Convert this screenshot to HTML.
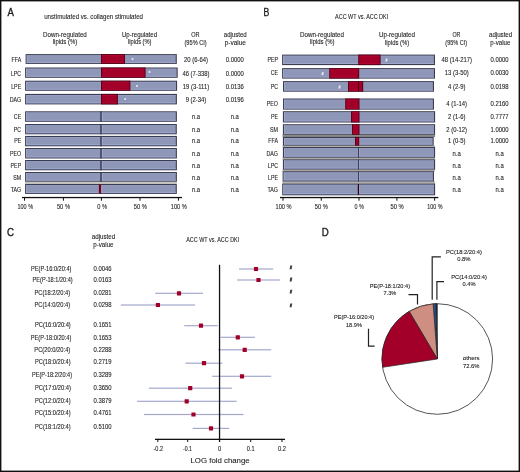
<!DOCTYPE html><html><head><meta charset="utf-8"><style>html,body{margin:0;padding:0;background:#fff;}svg{display:block;will-change:transform;filter:blur(0.3px);}text{font-family:"Liberation Sans",sans-serif;stroke:#1e1e1e;stroke-width:0.1px;}</style></head><body>
<svg width="520" height="472" viewBox="0 0 520 472">
<rect x="0" y="0" width="520" height="472" fill="#fff"/>
<text x="7.60" y="16.40" font-size="10.2" textLength="6.40" lengthAdjust="spacingAndGlyphs" fill="#1e1e1e" style="stroke-width:0.35px">A</text>
<text x="44.20" y="18.60" font-size="7.4" textLength="98.80" lengthAdjust="spacingAndGlyphs" fill="#1e1e1e" >unstimulated vs. collagen stimulated</text>
<text x="43.00" y="36.70" font-size="6.6" textLength="43.80" lengthAdjust="spacingAndGlyphs" fill="#1e1e1e" >Down-regulated</text>
<text x="52.80" y="44.00" font-size="6.6" textLength="24.40" lengthAdjust="spacingAndGlyphs" fill="#1e1e1e" >lipids (%)</text>
<text x="122.00" y="36.70" font-size="6.6" textLength="35.00" lengthAdjust="spacingAndGlyphs" fill="#1e1e1e" >Up-regulated</text>
<text x="128.00" y="44.00" font-size="6.6" textLength="23.50" lengthAdjust="spacingAndGlyphs" fill="#1e1e1e" >lipids (%)</text>
<text x="191.20" y="37.00" font-size="6.6" textLength="8.30" lengthAdjust="spacingAndGlyphs" fill="#1e1e1e" >OR</text>
<text x="184.50" y="44.50" font-size="6.6" textLength="22.20" lengthAdjust="spacingAndGlyphs" fill="#1e1e1e" >(95% CI)</text>
<text x="223.80" y="37.00" font-size="6.6" textLength="22.90" lengthAdjust="spacingAndGlyphs" fill="#1e1e1e" >adjusted</text>
<text x="224.70" y="44.50" font-size="6.6" textLength="21.30" lengthAdjust="spacingAndGlyphs" fill="#1e1e1e" >p-value</text>
<rect x="25.1" y="181.6" width="151.8" height="2.5" fill="#c4c4be"/>
<rect x="25.6" y="54.1" width="151.20" height="9.80" fill="#3b3d52"/>
<rect x="26.70" y="55.20" width="149.00" height="7.60" fill="#8f97b9"/>
<rect x="26.70" y="55.20" width="0.8" height="7.60" fill="#a3abd2"/>
<rect x="26.70" y="62.00" width="149.00" height="0.8" fill="#a3abd2"/>
<rect x="26.70" y="55.20" width="149.00" height="0.6" fill="#a3abd2" opacity="0.7"/>
<rect x="101.00" y="54.1" width="24.00" height="9.80" fill="#5e0016"/>
<rect x="102.00" y="55.20" width="22.00" height="7.60" fill="#a30029"/>
<rect x="102.00" y="55.20" width="22.00" height="0.7" fill="#b8063a"/>
<rect x="102.00" y="62.10" width="22.00" height="0.7" fill="#b8063a"/>
<text x="11.48" y="61.70" font-size="6.6" textLength="9.72" lengthAdjust="spacingAndGlyphs" fill="#1e1e1e" >FFA</text>
<text x="184.03" y="61.70" font-size="6.6" textLength="23.94" lengthAdjust="spacingAndGlyphs" fill="#1e1e1e" >20 (6-64)</text>
<text x="225.78" y="61.70" font-size="6.6" textLength="18.05" lengthAdjust="spacingAndGlyphs" fill="#1e1e1e" >0.0000</text>
<rect x="25.1" y="67.5" width="152.60" height="10.30" fill="#3b3d52"/>
<rect x="26.20" y="68.60" width="150.40" height="8.10" fill="#8f97b9"/>
<rect x="26.20" y="68.60" width="0.8" height="8.10" fill="#a3abd2"/>
<rect x="26.20" y="75.90" width="150.40" height="0.8" fill="#a3abd2"/>
<rect x="26.20" y="68.60" width="150.40" height="0.6" fill="#a3abd2" opacity="0.7"/>
<rect x="101.00" y="67.5" width="44.60" height="10.30" fill="#5e0016"/>
<rect x="102.00" y="68.60" width="42.60" height="8.10" fill="#a30029"/>
<rect x="102.00" y="68.60" width="42.60" height="0.7" fill="#b8063a"/>
<rect x="102.00" y="76.00" width="42.60" height="0.7" fill="#b8063a"/>
<text x="10.89" y="75.70" font-size="6.6" textLength="10.31" lengthAdjust="spacingAndGlyphs" fill="#1e1e1e" >LPC</text>
<text x="182.39" y="75.70" font-size="6.6" textLength="27.22" lengthAdjust="spacingAndGlyphs" fill="#1e1e1e" >46 (7-338)</text>
<text x="225.78" y="75.70" font-size="6.6" textLength="18.05" lengthAdjust="spacingAndGlyphs" fill="#1e1e1e" >0.0000</text>
<rect x="25.1" y="80.7" width="152.00" height="10.10" fill="#3b3d52"/>
<rect x="26.20" y="81.80" width="149.80" height="7.90" fill="#8f97b9"/>
<rect x="26.20" y="81.80" width="0.8" height="7.90" fill="#a3abd2"/>
<rect x="26.20" y="88.90" width="149.80" height="0.8" fill="#a3abd2"/>
<rect x="26.20" y="81.80" width="149.80" height="0.6" fill="#a3abd2" opacity="0.7"/>
<rect x="101.00" y="80.7" width="29.40" height="10.10" fill="#5e0016"/>
<rect x="102.00" y="81.80" width="27.40" height="7.90" fill="#a30029"/>
<rect x="102.00" y="81.80" width="27.40" height="0.7" fill="#b8063a"/>
<rect x="102.00" y="89.00" width="27.40" height="0.7" fill="#b8063a"/>
<text x="11.18" y="89.20" font-size="6.6" textLength="10.02" lengthAdjust="spacingAndGlyphs" fill="#1e1e1e" >LPE</text>
<text x="182.83" y="89.20" font-size="6.6" textLength="26.35" lengthAdjust="spacingAndGlyphs" fill="#1e1e1e" >19 (3-111)</text>
<text x="225.78" y="89.20" font-size="6.6" textLength="18.05" lengthAdjust="spacingAndGlyphs" fill="#1e1e1e" >0.0136</text>
<rect x="25.1" y="93.9" width="151.80" height="10.50" fill="#3b3d52"/>
<rect x="26.20" y="95.00" width="149.60" height="8.30" fill="#8f97b9"/>
<rect x="26.20" y="95.00" width="0.8" height="8.30" fill="#a3abd2"/>
<rect x="26.20" y="102.50" width="149.60" height="0.8" fill="#a3abd2"/>
<rect x="26.20" y="95.00" width="149.60" height="0.6" fill="#a3abd2" opacity="0.7"/>
<rect x="101.00" y="93.9" width="16.90" height="10.50" fill="#5e0016"/>
<rect x="102.00" y="95.00" width="14.90" height="8.30" fill="#a30029"/>
<rect x="102.00" y="95.00" width="14.90" height="0.7" fill="#b8063a"/>
<rect x="102.00" y="102.60" width="14.90" height="0.7" fill="#b8063a"/>
<text x="9.71" y="102.20" font-size="6.6" textLength="11.49" lengthAdjust="spacingAndGlyphs" fill="#1e1e1e" >DAG</text>
<text x="185.67" y="102.20" font-size="6.6" textLength="20.66" lengthAdjust="spacingAndGlyphs" fill="#1e1e1e" >9 (2-34)</text>
<text x="225.78" y="102.20" font-size="6.6" textLength="18.05" lengthAdjust="spacingAndGlyphs" fill="#1e1e1e" >0.0196</text>
<rect x="25.1" y="111.3" width="151.80" height="10.50" fill="#3b3d52"/>
<rect x="26.20" y="112.40" width="149.60" height="8.30" fill="#8f97b9"/>
<rect x="26.20" y="112.40" width="0.8" height="8.30" fill="#a3abd2"/>
<rect x="26.20" y="119.90" width="149.60" height="0.8" fill="#a3abd2"/>
<rect x="26.20" y="112.40" width="149.60" height="0.6" fill="#a3abd2" opacity="0.7"/>
<rect x="100.25" y="111.3" width="1.6" height="10.50" fill="#3b3d52"/>
<rect x="101.85" y="112.40" width="0.8" height="8.30" fill="#a3abd2"/>
<text x="13.84" y="118.60" font-size="6.6" textLength="7.36" lengthAdjust="spacingAndGlyphs" fill="#1e1e1e" >CE</text>
<text x="191.90" y="118.60" font-size="6.6" textLength="8.20" lengthAdjust="spacingAndGlyphs" fill="#1e1e1e" >n.a</text>
<text x="230.70" y="118.60" font-size="6.6" textLength="8.20" lengthAdjust="spacingAndGlyphs" fill="#1e1e1e" >n.a</text>
<rect x="25.1" y="124.0" width="151.70" height="10.30" fill="#3b3d52"/>
<rect x="26.20" y="125.10" width="149.50" height="8.10" fill="#8f97b9"/>
<rect x="26.20" y="125.10" width="0.8" height="8.10" fill="#a3abd2"/>
<rect x="26.20" y="132.40" width="149.50" height="0.8" fill="#a3abd2"/>
<rect x="26.20" y="125.10" width="149.50" height="0.6" fill="#a3abd2" opacity="0.7"/>
<rect x="100.25" y="124.0" width="1.6" height="10.30" fill="#3b3d52"/>
<rect x="101.85" y="125.10" width="0.8" height="8.10" fill="#a3abd2"/>
<text x="13.84" y="131.70" font-size="6.6" textLength="7.36" lengthAdjust="spacingAndGlyphs" fill="#1e1e1e" >PC</text>
<text x="191.90" y="131.70" font-size="6.6" textLength="8.20" lengthAdjust="spacingAndGlyphs" fill="#1e1e1e" >n.a</text>
<text x="230.70" y="131.70" font-size="6.6" textLength="8.20" lengthAdjust="spacingAndGlyphs" fill="#1e1e1e" >n.a</text>
<rect x="25.1" y="135.9" width="151.80" height="10.40" fill="#3b3d52"/>
<rect x="26.20" y="137.00" width="149.60" height="8.20" fill="#8f97b9"/>
<rect x="26.20" y="137.00" width="0.8" height="8.20" fill="#a3abd2"/>
<rect x="26.20" y="144.40" width="149.60" height="0.8" fill="#a3abd2"/>
<rect x="26.20" y="137.00" width="149.60" height="0.6" fill="#a3abd2" opacity="0.7"/>
<rect x="100.25" y="135.9" width="1.6" height="10.40" fill="#3b3d52"/>
<rect x="101.85" y="137.00" width="0.8" height="8.20" fill="#a3abd2"/>
<text x="14.13" y="143.40" font-size="6.6" textLength="7.07" lengthAdjust="spacingAndGlyphs" fill="#1e1e1e" >PE</text>
<text x="191.90" y="143.40" font-size="6.6" textLength="8.20" lengthAdjust="spacingAndGlyphs" fill="#1e1e1e" >n.a</text>
<text x="230.70" y="143.40" font-size="6.6" textLength="8.20" lengthAdjust="spacingAndGlyphs" fill="#1e1e1e" >n.a</text>
<rect x="25.1" y="148.0" width="151.80" height="10.50" fill="#3b3d52"/>
<rect x="26.20" y="149.10" width="149.60" height="8.30" fill="#8f97b9"/>
<rect x="26.20" y="149.10" width="0.8" height="8.30" fill="#a3abd2"/>
<rect x="26.20" y="156.60" width="149.60" height="0.8" fill="#a3abd2"/>
<rect x="26.20" y="149.10" width="149.60" height="0.6" fill="#a3abd2" opacity="0.7"/>
<rect x="100.25" y="148.0" width="1.6" height="10.50" fill="#3b3d52"/>
<rect x="101.85" y="149.10" width="0.8" height="8.30" fill="#a3abd2"/>
<text x="10.01" y="155.60" font-size="6.6" textLength="11.19" lengthAdjust="spacingAndGlyphs" fill="#1e1e1e" >PEO</text>
<text x="191.90" y="155.60" font-size="6.6" textLength="8.20" lengthAdjust="spacingAndGlyphs" fill="#1e1e1e" >n.a</text>
<text x="230.70" y="155.60" font-size="6.6" textLength="8.20" lengthAdjust="spacingAndGlyphs" fill="#1e1e1e" >n.a</text>
<rect x="25.1" y="160.0" width="151.80" height="10.30" fill="#3b3d52"/>
<rect x="26.20" y="161.10" width="149.60" height="8.10" fill="#8f97b9"/>
<rect x="26.20" y="161.10" width="0.8" height="8.10" fill="#a3abd2"/>
<rect x="26.20" y="168.40" width="149.60" height="0.8" fill="#a3abd2"/>
<rect x="26.20" y="161.10" width="149.60" height="0.6" fill="#a3abd2" opacity="0.7"/>
<rect x="100.25" y="160.0" width="1.6" height="10.30" fill="#3b3d52"/>
<rect x="101.85" y="161.10" width="0.8" height="8.10" fill="#a3abd2"/>
<text x="10.59" y="167.70" font-size="6.6" textLength="10.61" lengthAdjust="spacingAndGlyphs" fill="#1e1e1e" >PEP</text>
<text x="191.90" y="167.70" font-size="6.6" textLength="8.20" lengthAdjust="spacingAndGlyphs" fill="#1e1e1e" >n.a</text>
<text x="230.70" y="167.70" font-size="6.6" textLength="8.20" lengthAdjust="spacingAndGlyphs" fill="#1e1e1e" >n.a</text>
<rect x="25.1" y="172.0" width="151.80" height="9.70" fill="#3b3d52"/>
<rect x="26.20" y="173.10" width="149.60" height="7.50" fill="#8f97b9"/>
<rect x="26.20" y="173.10" width="0.8" height="7.50" fill="#a3abd2"/>
<rect x="26.20" y="179.80" width="149.60" height="0.8" fill="#a3abd2"/>
<rect x="26.20" y="173.10" width="149.60" height="0.6" fill="#a3abd2" opacity="0.7"/>
<rect x="100.25" y="172.0" width="1.6" height="9.70" fill="#3b3d52"/>
<rect x="101.85" y="173.10" width="0.8" height="7.50" fill="#a3abd2"/>
<text x="13.25" y="180.20" font-size="6.6" textLength="7.95" lengthAdjust="spacingAndGlyphs" fill="#1e1e1e" >SM</text>
<text x="191.90" y="180.20" font-size="6.6" textLength="8.20" lengthAdjust="spacingAndGlyphs" fill="#1e1e1e" >n.a</text>
<text x="230.70" y="180.20" font-size="6.6" textLength="8.20" lengthAdjust="spacingAndGlyphs" fill="#1e1e1e" >n.a</text>
<rect x="25.1" y="184.0" width="151.70" height="9.90" fill="#3b3d52"/>
<rect x="26.20" y="185.10" width="149.50" height="7.70" fill="#8f97b9"/>
<rect x="26.20" y="185.10" width="0.8" height="7.70" fill="#a3abd2"/>
<rect x="26.20" y="192.00" width="149.50" height="0.8" fill="#a3abd2"/>
<rect x="26.20" y="185.10" width="149.50" height="0.6" fill="#a3abd2" opacity="0.7"/>
<rect x="98.90" y="184.5" width="2.40" height="8.90" fill="#7a0018"/>
<rect x="101.30" y="185.10" width="0.8" height="7.70" fill="#a3abd2"/>
<text x="10.70" y="192.00" font-size="6.6" textLength="10.50" lengthAdjust="spacingAndGlyphs" fill="#1e1e1e" >TAG</text>
<text x="191.90" y="192.00" font-size="6.6" textLength="8.20" lengthAdjust="spacingAndGlyphs" fill="#1e1e1e" >n.a</text>
<text x="230.70" y="192.00" font-size="6.6" textLength="8.20" lengthAdjust="spacingAndGlyphs" fill="#1e1e1e" >n.a</text>
<circle cx="132.5" cy="59.1" r="1.0" fill="#eeeef6"/>
<circle cx="149.5" cy="71.9" r="1.0" fill="#eeeef6"/>
<circle cx="137" cy="86.0" r="1.0" fill="#eeeef6"/>
<circle cx="125.1" cy="99.1" r="1.0" fill="#eeeef6"/>
<rect x="22" y="196.9" width="160" height="1.3" fill="#111"/>
<rect x="24.00" y="197.5" width="1" height="3.2" fill="#111"/>
<rect x="62.90" y="197.5" width="1" height="3.2" fill="#111"/>
<rect x="100.90" y="197.5" width="1" height="3.2" fill="#111"/>
<rect x="139.50" y="197.5" width="1" height="3.2" fill="#111"/>
<rect x="177.90" y="197.5" width="1" height="3.2" fill="#111"/>
<text x="17.50" y="209.40" font-size="6.6" textLength="15.50" lengthAdjust="spacingAndGlyphs" fill="#1e1e1e" >100 %</text>
<text x="56.90" y="209.40" font-size="6.6" textLength="13.10" lengthAdjust="spacingAndGlyphs" fill="#1e1e1e" >50 %</text>
<text x="97.20" y="209.40" font-size="6.6" textLength="9.80" lengthAdjust="spacingAndGlyphs" fill="#1e1e1e" >0 %</text>
<text x="133.75" y="209.40" font-size="6.6" textLength="13.15" lengthAdjust="spacingAndGlyphs" fill="#1e1e1e" >50 %</text>
<text x="170.80" y="209.40" font-size="6.6" textLength="16.00" lengthAdjust="spacingAndGlyphs" fill="#1e1e1e" >100 %</text>
<text x="263.60" y="16.40" font-size="10.2" textLength="5.80" lengthAdjust="spacingAndGlyphs" fill="#1e1e1e" style="stroke-width:0.35px">B</text>
<text x="335.10" y="19.00" font-size="7.4" textLength="53.10" lengthAdjust="spacingAndGlyphs" fill="#1e1e1e" >ACC WT vs. ACC DKI</text>
<text x="300.00" y="37.00" font-size="6.6" textLength="44.00" lengthAdjust="spacingAndGlyphs" fill="#1e1e1e" >Down-regulated</text>
<text x="310.00" y="44.00" font-size="6.6" textLength="24.40" lengthAdjust="spacingAndGlyphs" fill="#1e1e1e" >lipids (%)</text>
<text x="379.00" y="37.10" font-size="6.6" textLength="36.00" lengthAdjust="spacingAndGlyphs" fill="#1e1e1e" >Up-regulated</text>
<text x="385.00" y="44.60" font-size="6.6" textLength="24.20" lengthAdjust="spacingAndGlyphs" fill="#1e1e1e" >lipids (%)</text>
<text x="452.50" y="37.00" font-size="6.6" textLength="7.90" lengthAdjust="spacingAndGlyphs" fill="#1e1e1e" >OR</text>
<text x="445.30" y="44.50" font-size="6.6" textLength="21.80" lengthAdjust="spacingAndGlyphs" fill="#1e1e1e" >(95% CI)</text>
<text x="489.00" y="37.00" font-size="6.6" textLength="23.20" lengthAdjust="spacingAndGlyphs" fill="#1e1e1e" >adjusted</text>
<text x="490.30" y="44.50" font-size="6.6" textLength="20.10" lengthAdjust="spacingAndGlyphs" fill="#1e1e1e" >p-value</text>
<rect x="282.5" y="134.6" width="152.6" height="2.5" fill="#8a8a88"/>
<rect x="282.5" y="145.5" width="152.6" height="1.7" fill="#b0b0a8"/>
<rect x="282.5" y="157.5" width="152.6" height="2.0" fill="#a8a8a0"/>
<rect x="282.5" y="169.4" width="152.6" height="2.0" fill="#a8a8a0"/>
<rect x="282.5" y="181.3" width="152.6" height="2.5" fill="#b0b0a8"/>
<rect x="282.1" y="54.6" width="152.90" height="10.50" fill="#3b3d52"/>
<rect x="283.20" y="55.70" width="150.70" height="8.30" fill="#8f97b9"/>
<rect x="283.20" y="55.70" width="0.8" height="8.30" fill="#a3abd2"/>
<rect x="283.20" y="63.20" width="150.70" height="0.8" fill="#a3abd2"/>
<rect x="283.20" y="55.70" width="150.70" height="0.6" fill="#a3abd2" opacity="0.7"/>
<rect x="358.20" y="54.6" width="22.40" height="10.50" fill="#5e0016"/>
<rect x="359.20" y="55.70" width="20.40" height="8.30" fill="#a30029"/>
<rect x="359.20" y="55.70" width="20.40" height="0.7" fill="#b8063a"/>
<rect x="359.20" y="63.30" width="20.40" height="0.7" fill="#b8063a"/>
<text x="267.39" y="61.50" font-size="6.6" textLength="10.61" lengthAdjust="spacingAndGlyphs" fill="#1e1e1e" >PEP</text>
<text x="441.45" y="61.50" font-size="6.6" textLength="30.50" lengthAdjust="spacingAndGlyphs" fill="#1e1e1e" >48 (14-217)</text>
<text x="490.58" y="61.50" font-size="6.6" textLength="18.05" lengthAdjust="spacingAndGlyphs" fill="#1e1e1e" >0.0000</text>
<rect x="282.1" y="68.1" width="152.90" height="10.50" fill="#3b3d52"/>
<rect x="283.20" y="69.20" width="150.70" height="8.30" fill="#8f97b9"/>
<rect x="283.20" y="69.20" width="0.8" height="8.30" fill="#a3abd2"/>
<rect x="283.20" y="76.70" width="150.70" height="0.8" fill="#a3abd2"/>
<rect x="283.20" y="69.20" width="150.70" height="0.6" fill="#a3abd2" opacity="0.7"/>
<rect x="329.20" y="68.1" width="30.00" height="10.50" fill="#5e0016"/>
<rect x="330.20" y="69.20" width="28.00" height="8.30" fill="#a30029"/>
<rect x="330.20" y="69.20" width="28.00" height="0.7" fill="#b8063a"/>
<rect x="330.20" y="76.80" width="28.00" height="0.7" fill="#b8063a"/>
<text x="270.64" y="75.40" font-size="6.6" textLength="7.36" lengthAdjust="spacingAndGlyphs" fill="#1e1e1e" >CE</text>
<text x="444.73" y="75.40" font-size="6.6" textLength="23.94" lengthAdjust="spacingAndGlyphs" fill="#1e1e1e" >13 (3-50)</text>
<text x="490.58" y="75.40" font-size="6.6" textLength="18.05" lengthAdjust="spacingAndGlyphs" fill="#1e1e1e" >0.0030</text>
<rect x="283.0" y="81.1" width="151.00" height="10.60" fill="#3b3d52"/>
<rect x="284.10" y="82.20" width="148.80" height="8.40" fill="#8f97b9"/>
<rect x="284.10" y="82.20" width="0.8" height="8.40" fill="#a3abd2"/>
<rect x="284.10" y="89.80" width="148.80" height="0.8" fill="#a3abd2"/>
<rect x="284.10" y="82.20" width="148.80" height="0.6" fill="#a3abd2" opacity="0.7"/>
<rect x="348.00" y="81.1" width="15.20" height="10.60" fill="#5e0016"/>
<rect x="349.00" y="82.20" width="13.20" height="8.40" fill="#a30029"/>
<rect x="349.00" y="82.20" width="13.20" height="0.7" fill="#b8063a"/>
<rect x="349.00" y="89.90" width="13.20" height="0.7" fill="#b8063a"/>
<text x="270.64" y="89.00" font-size="6.6" textLength="7.36" lengthAdjust="spacingAndGlyphs" fill="#1e1e1e" >PC</text>
<text x="448.01" y="89.00" font-size="6.6" textLength="17.38" lengthAdjust="spacingAndGlyphs" fill="#1e1e1e" >4 (2-9)</text>
<text x="490.58" y="89.00" font-size="6.6" textLength="18.05" lengthAdjust="spacingAndGlyphs" fill="#1e1e1e" >0.0198</text>
<rect x="283.0" y="98.5" width="151.00" height="11.10" fill="#3b3d52"/>
<rect x="284.10" y="99.60" width="148.80" height="8.90" fill="#8f97b9"/>
<rect x="284.10" y="99.60" width="0.8" height="8.90" fill="#a3abd2"/>
<rect x="284.10" y="107.70" width="148.80" height="0.8" fill="#a3abd2"/>
<rect x="284.10" y="99.60" width="148.80" height="0.6" fill="#a3abd2" opacity="0.7"/>
<rect x="345.20" y="98.5" width="14.30" height="11.10" fill="#5e0016"/>
<rect x="346.20" y="99.60" width="12.30" height="8.90" fill="#a30029"/>
<rect x="346.20" y="99.60" width="12.30" height="0.7" fill="#b8063a"/>
<rect x="346.20" y="107.80" width="12.30" height="0.7" fill="#b8063a"/>
<text x="266.81" y="105.50" font-size="6.6" textLength="11.19" lengthAdjust="spacingAndGlyphs" fill="#1e1e1e" >PEO</text>
<text x="446.37" y="105.50" font-size="6.6" textLength="20.66" lengthAdjust="spacingAndGlyphs" fill="#1e1e1e" >4 (1-14)</text>
<text x="490.58" y="105.50" font-size="6.6" textLength="18.05" lengthAdjust="spacingAndGlyphs" fill="#1e1e1e" >0.2160</text>
<rect x="282.9" y="111.2" width="152.20" height="11.30" fill="#3b3d52"/>
<rect x="284.00" y="112.30" width="150.00" height="9.10" fill="#8f97b9"/>
<rect x="284.00" y="112.30" width="0.8" height="9.10" fill="#a3abd2"/>
<rect x="284.00" y="120.60" width="150.00" height="0.8" fill="#a3abd2"/>
<rect x="284.00" y="112.30" width="150.00" height="0.6" fill="#a3abd2" opacity="0.7"/>
<rect x="351.00" y="111.2" width="8.50" height="11.30" fill="#5e0016"/>
<rect x="352.00" y="112.30" width="6.50" height="9.10" fill="#a30029"/>
<rect x="352.00" y="112.30" width="6.50" height="0.7" fill="#b8063a"/>
<rect x="352.00" y="120.70" width="6.50" height="0.7" fill="#b8063a"/>
<text x="270.93" y="118.70" font-size="6.6" textLength="7.07" lengthAdjust="spacingAndGlyphs" fill="#1e1e1e" >PE</text>
<text x="448.01" y="118.70" font-size="6.6" textLength="17.38" lengthAdjust="spacingAndGlyphs" fill="#1e1e1e" >2 (1-6)</text>
<text x="490.58" y="118.70" font-size="6.6" textLength="18.05" lengthAdjust="spacingAndGlyphs" fill="#1e1e1e" >0.7777</text>
<rect x="282.9" y="124.2" width="152.20" height="10.60" fill="#3b3d52"/>
<rect x="284.00" y="125.30" width="150.00" height="8.40" fill="#8f97b9"/>
<rect x="284.00" y="125.30" width="0.8" height="8.40" fill="#a3abd2"/>
<rect x="284.00" y="132.90" width="150.00" height="0.8" fill="#a3abd2"/>
<rect x="284.00" y="125.30" width="150.00" height="0.6" fill="#a3abd2" opacity="0.7"/>
<rect x="352.00" y="124.2" width="7.50" height="10.60" fill="#5e0016"/>
<rect x="353.00" y="125.30" width="5.50" height="8.40" fill="#a30029"/>
<rect x="353.00" y="125.30" width="5.50" height="0.7" fill="#b8063a"/>
<rect x="353.00" y="133.00" width="5.50" height="0.7" fill="#b8063a"/>
<text x="270.05" y="131.50" font-size="6.6" textLength="7.95" lengthAdjust="spacingAndGlyphs" fill="#1e1e1e" >SM</text>
<text x="446.37" y="131.50" font-size="6.6" textLength="20.66" lengthAdjust="spacingAndGlyphs" fill="#1e1e1e" >2 (0-12)</text>
<text x="490.58" y="131.50" font-size="6.6" textLength="18.05" lengthAdjust="spacingAndGlyphs" fill="#1e1e1e" >1.0000</text>
<rect x="282.9" y="136.9" width="150.80" height="8.80" fill="#3b3d52"/>
<rect x="284.00" y="138.00" width="148.60" height="6.60" fill="#8f97b9"/>
<rect x="284.00" y="138.00" width="0.8" height="6.60" fill="#a3abd2"/>
<rect x="284.00" y="143.80" width="148.60" height="0.8" fill="#a3abd2"/>
<rect x="284.00" y="138.00" width="148.60" height="0.6" fill="#a3abd2" opacity="0.7"/>
<rect x="355.00" y="136.9" width="4.20" height="8.80" fill="#5e0016"/>
<rect x="356.00" y="138.00" width="2.20" height="6.60" fill="#a30029"/>
<rect x="356.00" y="138.00" width="2.20" height="0.7" fill="#b8063a"/>
<rect x="356.00" y="143.90" width="2.20" height="0.7" fill="#b8063a"/>
<text x="268.28" y="143.30" font-size="6.6" textLength="9.72" lengthAdjust="spacingAndGlyphs" fill="#1e1e1e" >FFA</text>
<text x="448.01" y="143.30" font-size="6.6" textLength="17.38" lengthAdjust="spacingAndGlyphs" fill="#1e1e1e" >1 (0-5)</text>
<text x="490.58" y="143.30" font-size="6.6" textLength="18.05" lengthAdjust="spacingAndGlyphs" fill="#1e1e1e" >1.0000</text>
<rect x="282.9" y="147.0" width="152.20" height="10.70" fill="#3b3d52"/>
<rect x="284.00" y="148.10" width="150.00" height="8.50" fill="#8f97b9"/>
<rect x="284.00" y="148.10" width="0.8" height="8.50" fill="#a3abd2"/>
<rect x="284.00" y="155.80" width="150.00" height="0.8" fill="#a3abd2"/>
<rect x="284.00" y="148.10" width="150.00" height="0.6" fill="#a3abd2" opacity="0.7"/>
<rect x="358.05" y="147.0" width="1.1" height="10.70" fill="#3b3d52"/>
<rect x="359.15" y="148.10" width="0.8" height="8.50" fill="#a3abd2"/>
<text x="266.51" y="155.50" font-size="6.6" textLength="11.49" lengthAdjust="spacingAndGlyphs" fill="#1e1e1e" >DAG</text>
<text x="452.60" y="155.50" font-size="6.6" textLength="8.20" lengthAdjust="spacingAndGlyphs" fill="#1e1e1e" >n.a</text>
<text x="495.50" y="155.50" font-size="6.6" textLength="8.20" lengthAdjust="spacingAndGlyphs" fill="#1e1e1e" >n.a</text>
<rect x="282.9" y="159.3" width="152.20" height="10.30" fill="#3b3d52"/>
<rect x="284.00" y="160.40" width="150.00" height="8.10" fill="#8f97b9"/>
<rect x="284.00" y="160.40" width="0.8" height="8.10" fill="#a3abd2"/>
<rect x="284.00" y="167.70" width="150.00" height="0.8" fill="#a3abd2"/>
<rect x="284.00" y="160.40" width="150.00" height="0.6" fill="#a3abd2" opacity="0.7"/>
<rect x="358.05" y="159.3" width="1.1" height="10.30" fill="#3b3d52"/>
<rect x="359.15" y="160.40" width="0.8" height="8.10" fill="#a3abd2"/>
<text x="267.69" y="167.70" font-size="6.6" textLength="10.31" lengthAdjust="spacingAndGlyphs" fill="#1e1e1e" >LPC</text>
<text x="452.60" y="167.70" font-size="6.6" textLength="8.20" lengthAdjust="spacingAndGlyphs" fill="#1e1e1e" >n.a</text>
<text x="495.50" y="167.70" font-size="6.6" textLength="8.20" lengthAdjust="spacingAndGlyphs" fill="#1e1e1e" >n.a</text>
<rect x="282.6" y="171.2" width="151.40" height="10.30" fill="#3b3d52"/>
<rect x="283.70" y="172.30" width="149.20" height="8.10" fill="#8f97b9"/>
<rect x="283.70" y="172.30" width="0.8" height="8.10" fill="#a3abd2"/>
<rect x="283.70" y="179.60" width="149.20" height="0.8" fill="#a3abd2"/>
<rect x="283.70" y="172.30" width="149.20" height="0.6" fill="#a3abd2" opacity="0.7"/>
<rect x="358.05" y="171.2" width="1.1" height="10.30" fill="#3b3d52"/>
<rect x="359.15" y="172.30" width="0.8" height="8.10" fill="#a3abd2"/>
<text x="267.98" y="179.90" font-size="6.6" textLength="10.02" lengthAdjust="spacingAndGlyphs" fill="#1e1e1e" >LPE</text>
<text x="452.60" y="179.90" font-size="6.6" textLength="8.20" lengthAdjust="spacingAndGlyphs" fill="#1e1e1e" >n.a</text>
<text x="495.50" y="179.90" font-size="6.6" textLength="8.20" lengthAdjust="spacingAndGlyphs" fill="#1e1e1e" >n.a</text>
<rect x="282.2" y="183.6" width="152.90" height="11.70" fill="#3b3d52"/>
<rect x="283.30" y="184.70" width="150.70" height="9.50" fill="#8f97b9"/>
<rect x="283.30" y="184.70" width="0.8" height="9.50" fill="#a3abd2"/>
<rect x="283.30" y="193.40" width="150.70" height="0.8" fill="#a3abd2"/>
<rect x="283.30" y="184.70" width="150.70" height="0.6" fill="#a3abd2" opacity="0.7"/>
<rect x="357.80" y="184.1" width="1.40" height="10.70" fill="#2a0008"/>
<rect x="359.20" y="184.70" width="0.8" height="9.50" fill="#a3abd2"/>
<text x="267.50" y="191.50" font-size="6.6" textLength="10.50" lengthAdjust="spacingAndGlyphs" fill="#1e1e1e" >TAG</text>
<text x="452.60" y="191.50" font-size="6.6" textLength="8.20" lengthAdjust="spacingAndGlyphs" fill="#1e1e1e" >n.a</text>
<text x="495.50" y="191.50" font-size="6.6" textLength="8.20" lengthAdjust="spacingAndGlyphs" fill="#1e1e1e" >n.a</text>
<rect x="358.1" y="81.5" width="0.9" height="9.5" fill="#3b0010"/>
<ellipse cx="386.5" cy="60.0" rx="1.05" ry="1.9" transform="rotate(15 386.5 60.0)" fill="#e2e4f0"/>
<ellipse cx="322.6" cy="73.5" rx="1.05" ry="1.9" transform="rotate(15 322.6 73.5)" fill="#e2e4f0"/>
<ellipse cx="339.6" cy="87.0" rx="1.05" ry="1.9" transform="rotate(15 339.6 87.0)" fill="#e2e4f0"/>
<rect x="280" y="196.9" width="158.3" height="1.3" fill="#111"/>
<rect x="282.50" y="197.5" width="1" height="3.2" fill="#111"/>
<rect x="320.75" y="197.5" width="1" height="3.2" fill="#111"/>
<rect x="358.50" y="197.5" width="1" height="3.2" fill="#111"/>
<rect x="396.40" y="197.5" width="1" height="3.2" fill="#111"/>
<rect x="434.10" y="197.5" width="1" height="3.2" fill="#111"/>
<text x="275.50" y="209.40" font-size="6.6" textLength="16.00" lengthAdjust="spacingAndGlyphs" fill="#1e1e1e" >100 %</text>
<text x="314.75" y="209.40" font-size="6.6" textLength="13.00" lengthAdjust="spacingAndGlyphs" fill="#1e1e1e" >50 %</text>
<text x="354.40" y="209.40" font-size="6.6" textLength="9.35" lengthAdjust="spacingAndGlyphs" fill="#1e1e1e" >0 %</text>
<text x="390.60" y="209.40" font-size="6.6" textLength="13.15" lengthAdjust="spacingAndGlyphs" fill="#1e1e1e" >50 %</text>
<text x="427.25" y="209.40" font-size="6.6" textLength="15.25" lengthAdjust="spacingAndGlyphs" fill="#1e1e1e" >100 %</text>
<text x="7.00" y="236.00" font-size="10.6" textLength="7.00" lengthAdjust="spacingAndGlyphs" fill="#1e1e1e" style="stroke-width:0.35px">C</text>
<text x="91.80" y="238.80" font-size="6.6" textLength="23.40" lengthAdjust="spacingAndGlyphs" fill="#1e1e1e" >adjusted</text>
<text x="93.30" y="246.60" font-size="6.6" textLength="20.20" lengthAdjust="spacingAndGlyphs" fill="#1e1e1e" >p-value</text>
<text x="186.20" y="241.60" font-size="7.2" textLength="53.00" lengthAdjust="spacingAndGlyphs" fill="#1e1e1e" >ACC WT vs. ACC DKI</text>
<text x="31.10" y="270.60" font-size="6.6" textLength="40.30" lengthAdjust="spacingAndGlyphs" fill="#1e1e1e" >PE(P-16:0/20:4)</text>
<text x="93.58" y="270.60" font-size="6.6" textLength="18.05" lengthAdjust="spacingAndGlyphs" fill="#1e1e1e" >0.0046</text>
<rect x="239.00" y="268.40" width="34.20" height="1.2" fill="#a4a9cc"/>
<text x="32.60" y="281.70" font-size="6.6" textLength="40.10" lengthAdjust="spacingAndGlyphs" fill="#1e1e1e" >PE(P-18:1/20:4)</text>
<text x="93.58" y="281.70" font-size="6.6" textLength="18.05" lengthAdjust="spacingAndGlyphs" fill="#1e1e1e" >0.0163</text>
<rect x="237.00" y="279.40" width="43.00" height="1.2" fill="#a4a9cc"/>
<text x="34.50" y="294.80" font-size="6.6" textLength="35.70" lengthAdjust="spacingAndGlyphs" fill="#1e1e1e" >PC(18:2/20:4)</text>
<text x="93.58" y="294.80" font-size="6.6" textLength="18.05" lengthAdjust="spacingAndGlyphs" fill="#1e1e1e" >0.0281</text>
<rect x="155.20" y="292.70" width="47.80" height="1.2" fill="#a4a9cc"/>
<text x="34.50" y="306.80" font-size="6.6" textLength="35.70" lengthAdjust="spacingAndGlyphs" fill="#1e1e1e" >PC(14:0/20:4)</text>
<text x="93.58" y="306.80" font-size="6.6" textLength="18.05" lengthAdjust="spacingAndGlyphs" fill="#1e1e1e" >0.0298</text>
<rect x="120.80" y="304.40" width="74.20" height="1.2" fill="#a4a9cc"/>
<text x="35.00" y="327.30" font-size="6.6" textLength="35.80" lengthAdjust="spacingAndGlyphs" fill="#1e1e1e" >PC(16:0/20:4)</text>
<text x="93.58" y="327.30" font-size="6.6" textLength="18.05" lengthAdjust="spacingAndGlyphs" fill="#1e1e1e" >0.1651</text>
<rect x="184.20" y="325.10" width="33.60" height="1.2" fill="#a4a9cc"/>
<text x="30.70" y="339.90" font-size="6.6" textLength="40.70" lengthAdjust="spacingAndGlyphs" fill="#1e1e1e" >PE(P-18:0/20:4)</text>
<text x="93.58" y="339.90" font-size="6.6" textLength="18.05" lengthAdjust="spacingAndGlyphs" fill="#1e1e1e" >0.1653</text>
<rect x="220.70" y="336.70" width="34.30" height="1.2" fill="#a4a9cc"/>
<text x="34.30" y="351.80" font-size="6.6" textLength="36.00" lengthAdjust="spacingAndGlyphs" fill="#1e1e1e" >PC(20:0/20:4)</text>
<text x="93.58" y="351.80" font-size="6.6" textLength="18.05" lengthAdjust="spacingAndGlyphs" fill="#1e1e1e" >0.2288</text>
<rect x="218.30" y="349.20" width="52.90" height="1.2" fill="#a4a9cc"/>
<text x="35.00" y="364.40" font-size="6.6" textLength="35.70" lengthAdjust="spacingAndGlyphs" fill="#1e1e1e" >PC(18:0/20:4)</text>
<text x="93.58" y="364.40" font-size="6.6" textLength="18.05" lengthAdjust="spacingAndGlyphs" fill="#1e1e1e" >0.2719</text>
<rect x="185.50" y="362.60" width="36.80" height="1.2" fill="#a4a9cc"/>
<text x="32.00" y="376.80" font-size="6.6" textLength="40.00" lengthAdjust="spacingAndGlyphs" fill="#1e1e1e" >PE(P-18:2/20:4)</text>
<text x="93.58" y="376.80" font-size="6.6" textLength="18.05" lengthAdjust="spacingAndGlyphs" fill="#1e1e1e" >0.3289</text>
<rect x="212.20" y="375.70" width="59.00" height="1.2" fill="#a4a9cc"/>
<text x="35.00" y="389.60" font-size="6.6" textLength="36.00" lengthAdjust="spacingAndGlyphs" fill="#1e1e1e" >PC(17:0/20:4)</text>
<text x="93.58" y="389.60" font-size="6.6" textLength="18.05" lengthAdjust="spacingAndGlyphs" fill="#1e1e1e" >0.3650</text>
<rect x="148.90" y="387.60" width="83.10" height="1.2" fill="#a4a9cc"/>
<text x="35.00" y="402.60" font-size="6.6" textLength="35.70" lengthAdjust="spacingAndGlyphs" fill="#1e1e1e" >PC(12:0/20:4)</text>
<text x="93.58" y="402.60" font-size="6.6" textLength="18.05" lengthAdjust="spacingAndGlyphs" fill="#1e1e1e" >0.3879</text>
<rect x="137.00" y="400.70" width="99.70" height="1.2" fill="#a4a9cc"/>
<text x="35.00" y="415.40" font-size="6.6" textLength="35.70" lengthAdjust="spacingAndGlyphs" fill="#1e1e1e" >PC(15:0/20:4)</text>
<text x="93.58" y="415.40" font-size="6.6" textLength="18.05" lengthAdjust="spacingAndGlyphs" fill="#1e1e1e" >0.4761</text>
<rect x="144.00" y="413.90" width="99.50" height="1.2" fill="#a4a9cc"/>
<text x="35.00" y="428.80" font-size="6.6" textLength="35.70" lengthAdjust="spacingAndGlyphs" fill="#1e1e1e" >PC(18:1/20:4)</text>
<text x="93.58" y="428.80" font-size="6.6" textLength="18.05" lengthAdjust="spacingAndGlyphs" fill="#1e1e1e" >0.5100</text>
<rect x="192.70" y="427.80" width="36.50" height="1.2" fill="#a4a9cc"/>
<rect x="253.90" y="266.90" width="4.2" height="4.2" rx="0.4" fill="#a30029"/>
<polygon points="289.60,269.30 290.30,265.50 292.30,265.50 291.60,269.30" fill="#404040"/>
<rect x="256.40" y="277.90" width="4.2" height="4.2" rx="0.4" fill="#a30029"/>
<polygon points="289.60,281.40 290.30,277.60 292.30,277.60 291.60,281.40" fill="#404040"/>
<rect x="176.90" y="291.20" width="4.2" height="4.2" rx="0.4" fill="#a30029"/>
<polygon points="289.60,293.50 290.30,289.70 292.30,289.70 291.60,293.50" fill="#404040"/>
<rect x="155.80" y="302.90" width="4.2" height="4.2" rx="0.4" fill="#a30029"/>
<polygon points="289.60,307.30 290.30,303.50 292.30,303.50 291.60,307.30" fill="#404040"/>
<rect x="198.90" y="323.60" width="4.2" height="4.2" rx="0.4" fill="#a30029"/>
<rect x="235.70" y="335.20" width="4.2" height="4.2" rx="0.4" fill="#a30029"/>
<rect x="242.60" y="347.70" width="4.2" height="4.2" rx="0.4" fill="#a30029"/>
<rect x="201.90" y="361.10" width="4.2" height="4.2" rx="0.4" fill="#a30029"/>
<rect x="239.90" y="374.20" width="4.2" height="4.2" rx="0.4" fill="#a30029"/>
<rect x="188.10" y="386.10" width="4.2" height="4.2" rx="0.4" fill="#a30029"/>
<rect x="184.60" y="399.20" width="4.2" height="4.2" rx="0.4" fill="#a30029"/>
<rect x="191.40" y="412.40" width="4.2" height="4.2" rx="0.4" fill="#a30029"/>
<rect x="208.90" y="426.30" width="4.2" height="4.2" rx="0.4" fill="#a30029"/>
<rect x="218.9" y="264.8" width="1.3" height="177" fill="#111"/>
<rect x="155" y="438.7" width="130" height="1.3" fill="#111"/>
<rect x="157.30" y="439" width="1" height="3" fill="#111"/>
<rect x="187.20" y="439" width="1" height="3" fill="#111"/>
<rect x="219.00" y="439" width="1" height="3" fill="#111"/>
<rect x="250.20" y="439" width="1" height="3" fill="#111"/>
<rect x="281.50" y="439" width="1" height="3" fill="#111"/>
<text x="153.50" y="450.50" font-size="6.6" textLength="9.50" lengthAdjust="spacingAndGlyphs" fill="#1e1e1e" >-0.2</text>
<text x="183.00" y="450.50" font-size="6.6" textLength="9.00" lengthAdjust="spacingAndGlyphs" fill="#1e1e1e" >-0.1</text>
<text x="218.00" y="450.50" font-size="6.6" textLength="3.20" lengthAdjust="spacingAndGlyphs" fill="#1e1e1e" >0</text>
<text x="246.80" y="450.50" font-size="6.6" textLength="7.70" lengthAdjust="spacingAndGlyphs" fill="#1e1e1e" >0.1</text>
<text x="278.00" y="450.50" font-size="6.6" textLength="8.00" lengthAdjust="spacingAndGlyphs" fill="#1e1e1e" >0.2</text>
<text x="190.50" y="462.80" font-size="7.4" textLength="59.20" lengthAdjust="spacingAndGlyphs" fill="#1e1e1e" >LOG fold change</text>
<text x="321.80" y="235.50" font-size="10.4" textLength="7.00" lengthAdjust="spacingAndGlyphs" fill="#1e1e1e" style="stroke-width:0.35px">D</text>
<circle cx="437.3" cy="359.0" r="55.3" fill="#fff" stroke="#555" stroke-width="1"/>
<path d="M437.3,359.0 L437.30,303.70 A55.3,55.3 0 0 0 435.91,303.72 Z" fill="#15244a" stroke="#222" stroke-width="0.7" stroke-linejoin="round"/>
<path d="M437.3,359.0 L435.91,303.72 A55.3,55.3 0 0 0 433.13,303.86 Z" fill="#2a4f8f" stroke="#222" stroke-width="0.7" stroke-linejoin="round"/>
<path d="M437.3,359.0 L433.13,303.86 A55.3,55.3 0 0 0 409.15,311.40 Z" fill="#ce8e82" stroke="#222" stroke-width="0.7" stroke-linejoin="round"/>
<path d="M437.3,359.0 L409.15,311.40 A55.3,55.3 0 0 0 382.63,367.31 Z" fill="#a30029" stroke="#222" stroke-width="0.7" stroke-linejoin="round"/>
<path d="M432.2,299.7 V256.9 H440.9" fill="none" stroke="#222" stroke-width="1.2"/>
<path d="M436.9,299.7 V281.6 H444.0" fill="none" stroke="#222" stroke-width="1.2"/>
<path d="M408.5,294.6 H417.5 V304.4" fill="none" stroke="#222" stroke-width="1.2"/>
<path d="M368.5,328.7 V346.2 H374.6" fill="none" stroke="#222" stroke-width="1.2"/>
<text x="446.00" y="253.80" font-size="5.5" textLength="35.90" lengthAdjust="spacingAndGlyphs" fill="#1e1e1e" >PC(18:2/20:4)</text>
<text x="457.20" y="261.30" font-size="5.5" textLength="13.40" lengthAdjust="spacingAndGlyphs" fill="#1e1e1e" >0.8%</text>
<text x="451.20" y="279.00" font-size="5.5" textLength="35.70" lengthAdjust="spacingAndGlyphs" fill="#1e1e1e" >PC(14:0/20:4)</text>
<text x="462.50" y="286.30" font-size="5.5" textLength="13.10" lengthAdjust="spacingAndGlyphs" fill="#1e1e1e" >0.4%</text>
<text x="369.80" y="287.50" font-size="5.5" textLength="40.20" lengthAdjust="spacingAndGlyphs" fill="#1e1e1e" >PE(P-18:1/20:4)</text>
<text x="383.50" y="295.00" font-size="5.5" textLength="12.80" lengthAdjust="spacingAndGlyphs" fill="#1e1e1e" >7.3%</text>
<text x="334.00" y="318.75" font-size="5.5" textLength="40.00" lengthAdjust="spacingAndGlyphs" fill="#1e1e1e" >PE(P-16:0/20:4)</text>
<text x="346.00" y="326.50" font-size="5.5" textLength="15.90" lengthAdjust="spacingAndGlyphs" fill="#1e1e1e" >18.9%</text>
<text x="462.80" y="360.00" font-size="5.5" textLength="16.70" lengthAdjust="spacingAndGlyphs" fill="#1e1e1e" >others</text>
<text x="463.00" y="367.80" font-size="5.5" textLength="16.50" lengthAdjust="spacingAndGlyphs" fill="#1e1e1e" >72.6%</text>
<rect x="0.7" y="0.7" width="518.6" height="470.6" fill="none" stroke="#111" stroke-width="1.4"/>
</svg></body></html>
